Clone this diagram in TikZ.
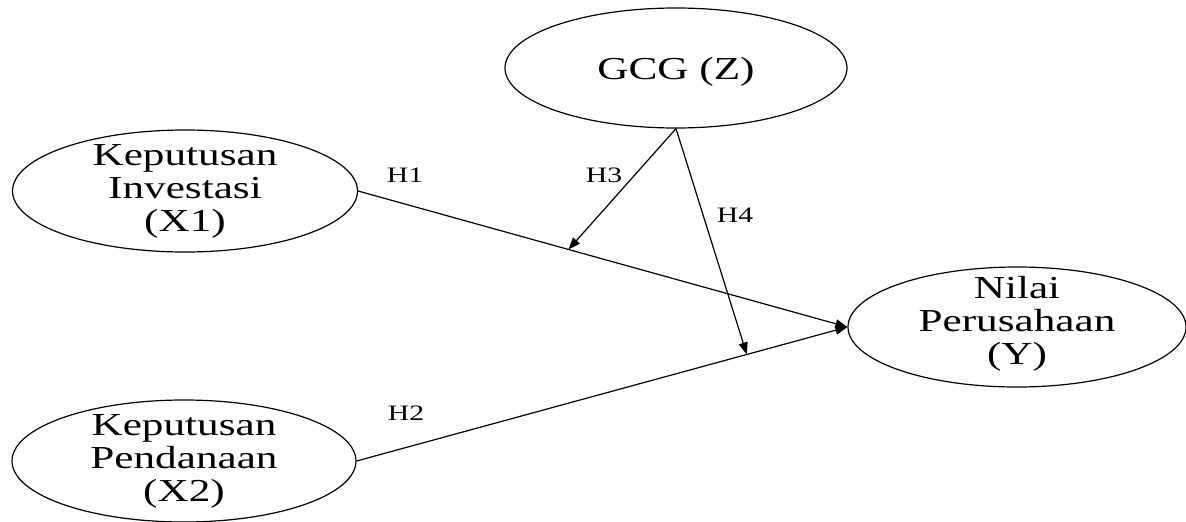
\documentclass[tikz,border=0pt]{standalone}
\usepackage{fontspec}
\setmainfont[FakeStretch=1.35]{Liberation Serif}
\usetikzlibrary{shapes.geometric,arrows.meta,calc}
\begin{document}
\begin{tikzpicture}[x=1pt,y=-1pt,
  var/.style={draw, ellipse, line width=1.2pt, inner sep=0pt},
  vartext/.style={align=center, font=\fontsize{32}{33}\selectfont, inner sep=0pt},
  hlabel/.style={font=\fontsize{22}{24}\selectfont, inner sep=0pt},
  link/.style={line width=1.2pt, -{Triangle[length=12pt,width=9pt]}}]
\useasboundingbox (0,0) rectangle (1186,522);

% latent variables
\node[var, minimum width=342pt, minimum height=120pt] (Z)  at (676,68)  {};
\node[var, minimum width=345pt, minimum height=122pt] (X1) at (185,191) {};
\node[var, minimum width=344pt, minimum height=122pt] (X2) at (184,461) {};
\node[var, minimum width=338pt, minimum height=120pt] (Y)  at (1017,327) {};

% variable names
\node[vartext] (tZ)  at ([yshift=-4pt]Z.center)  {GCG (Z)};
\node[vartext] (tX1) at (X1.center) {Keputusan\\Investasi\\(X1)};
\node[vartext] (tX2) at (X2.center) {Keputusan\\Pendanaan\\(X2)};
\node[vartext] (tY)  at ([yshift=3pt]Y.center)  {Nilai\\Perusahaan\\(Y)};

% moderation points on the direct paths
\coordinate (m1) at ($(X1.east)!0.43!(Y.west)$);
\coordinate (m2) at ($(X2.east)!0.795!(Y.west)$);

% paths
\draw[link] (X1.east) -- (Y.west);
\draw[link] (X2.east) -- (Y.west);
\draw[link] (Z.south) -- (m1);
\draw[link] (Z.south) -- (m2);

% hypothesis labels
\node[hlabel] (h1) at (405,175) {H1};
\node[hlabel] (h2) at (406,413) {H2};
\node[hlabel] (h3) at (604,175) {H3};
\node[hlabel] (h4) at (735,215) {H4};
\end{tikzpicture}
\end{document}
